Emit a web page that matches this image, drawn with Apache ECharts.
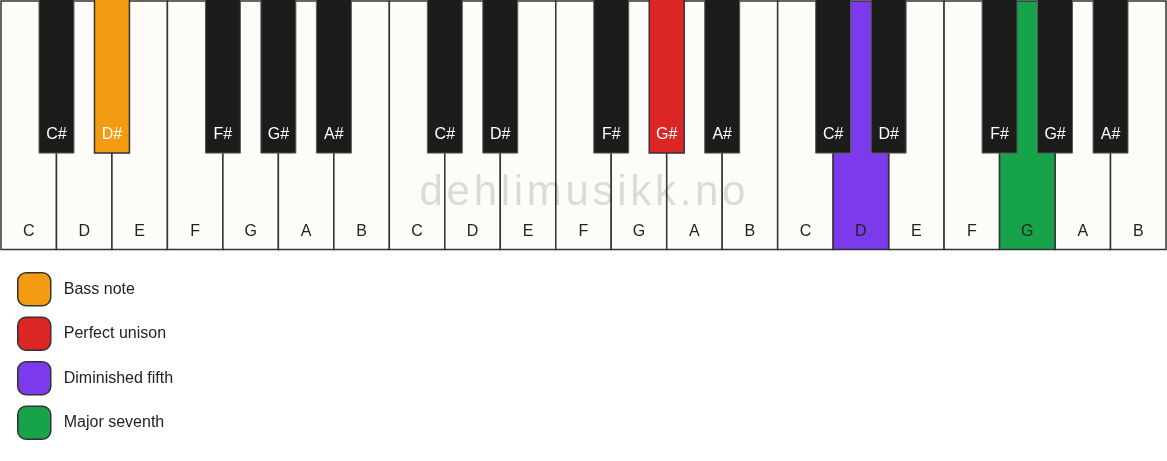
<!DOCTYPE html>
<html>
<head>
<meta charset="utf-8">
<script src="https://cdn.jsdelivr.net/npm/echarts@6/dist/echarts.min.js"></script>
<style>
html,body{margin:0;padding:0;background:#ffffff;}
#chart{width:1167px;height:461px;}
</style>
</head>
<body>
<div id="chart"></div>
<script>
// ---- data ----
const octaveCount = 3;
const whiteNotes = ['C', 'D', 'E', 'F', 'G', 'A', 'B'];
const blackNotes = ['C#', 'D#', 'F#', 'G#', 'A#'];
const blackAfterWhite = [0, 1, 3, 4, 5]; // black key sits after this white key index in the octave
const highlightNotes = ['D#', 'G#', 'D', 'G'];
const highlightOctaves = [0, 1, 2, 2];
const highlightNames = ['Bass note', 'Perfect unison', 'Diminished fifth', 'Major seventh'];
const highlightColors = ['#f39c12', '#dc2626', '#7c3aed', '#16a34a'];
const watermarkText = 'dehlimusikk.no';

// ---- derived ----
const FONT = "'Liberation Sans', Arial, Helvetica, sans-serif";
const WHITE_FILL = '#fdfcf9';
const BLACK_FILL = '#1c1c1b';
const BLACK_W = 0.63;      // in white-key units
const BLACK_BOTTOM = 0.388; // y (0 bottom, 1 top)

const whiteKeys = [];
for (let o = 0; o < octaveCount; o++) {
  whiteNotes.forEach((n, i) => whiteKeys.push({ pos: o * 7 + i, name: n, octave: o }));
}
const blackKeys = [];
for (let o = 0; o < octaveCount; o++) {
  blackNotes.forEach((n, i) => blackKeys.push({ pos: o * 7 + blackAfterWhite[i] + 1, name: n, octave: o }));
}
function isHighlighted(name, octave) {
  for (let k = 0; k < highlightNotes.length; k++) {
    if (highlightNotes[k] === name && highlightOctaves[k] === octave) return true;
  }
  return false;
}
function findKey(name, octave) {
  let w = whiteKeys.find(k => k.name === name && k.octave === octave);
  if (w) return { black: false, pos: w.pos, name: name };
  let b = blackKeys.find(k => k.name === name && k.octave === octave);
  return { black: true, pos: b.pos, name: name };
}

function whiteShape(api, pos, fill, label, textFill) {
  const p0 = api.coord([pos, 1]);
  const p1 = api.coord([pos + 1, 0]);
  return {
    type: 'group',
    children: [
      { type: 'rect', shape: { x: p0[0], y: p0[1], width: p1[0] - p0[0], height: p1[1] - p0[1] },
        style: { fill: fill, stroke: '#333333', lineWidth: 1.5 } },
      { type: 'text', style: { text: label, x: (p0[0] + p1[0]) / 2, y: p1[1] - 17.5,
        align: 'center', verticalAlign: 'middle', fill: textFill, font: '16px ' + FONT } }
    ]
  };
}
function blackShape(api, pos, fill, label, stroke, lw) {
  const p0 = api.coord([pos - BLACK_W / 2, 1.02]);
  const p1 = api.coord([pos + BLACK_W / 2, BLACK_BOTTOM]);
  return {
    type: 'group',
    children: [
      { type: 'rect', shape: { x: p0[0], y: p0[1], width: p1[0] - p0[0], height: p1[1] - p0[1] },
        style: { fill: fill, stroke: stroke, lineWidth: lw } },
      { type: 'text', style: { text: label, x: (p0[0] + p1[0]) / 2, y: p1[1] - 18,
        align: 'center', verticalAlign: 'middle', fill: '#ffffff', font: '16px ' + FONT } }
    ]
  };
}

const whiteData = whiteKeys.filter(k => !isHighlighted(k.name, k.octave));
const blackData = blackKeys.filter(k => !isHighlighted(k.name, k.octave));

const series = [
  {
    type: 'custom', name: 'white', z: 1, silent: true,
    data: whiteData.map(k => [k.pos]),
    renderItem: function (params, api) {
      const k = whiteData[params.dataIndex];
      return whiteShape(api, k.pos, WHITE_FILL, k.name, '#222222');
    }
  },
  {
    type: 'custom', name: 'black', z: 3, silent: true,
    data: blackData.map(k => [k.pos]),
    renderItem: function (params, api) {
      const k = blackData[params.dataIndex];
      return blackShape(api, k.pos, BLACK_FILL, k.name, '#5a5a5a', 1);
    }
  }
];
highlightNames.forEach((nm, idx) => {
  const key = findKey(highlightNotes[idx], highlightOctaves[idx]);
  series.push({
    type: 'custom', name: nm, z: key.black ? 4 : 2, silent: true,
    itemStyle: { color: highlightColors[idx] },
    data: [[key.pos]],
    renderItem: function (params, api) {
      if (key.black) return blackShape(api, key.pos, highlightColors[idx], key.name, '#333333', 1.5);
      return whiteShape(api, key.pos, highlightColors[idx], key.name, '#222222');
    }
  });
});

// watermark with letter spacing
const ctx = document.createElement('canvas').getContext('2d');
const wmFont = '42px ' + FONT;
ctx.font = wmFont;
const spacing = 3.7;
const chars = watermarkText.split('');
const widths = chars.map(c => ctx.measureText(c).width);
const totalW = widths.reduce((a, b) => a + b, 0) + spacing * (chars.length - 1);
let cx = 582.5 - totalW / 2;
const graphics = [];
chars.forEach((c, i) => {
  graphics.push({ type: 'text', z: 100, silent: true, x: cx, y: 193,
    style: { text: c, font: wmFont, fill: 'rgba(0,0,0,0.135)', align: 'left', verticalAlign: 'middle' } });
  cx += widths[i] + spacing;
});

const chart = echarts.init(document.getElementById('chart'), null, { renderer: 'canvas' });
chart.setOption({
  animation: false,
  backgroundColor: '#ffffff',
  grid: { left: 1, right: 1, top: 1, bottom: 211.5 },
  xAxis: { type: 'value', min: 0, max: 21, show: false },
  yAxis: { type: 'value', min: 0, max: 1, show: false },
  legend: {
    data: highlightNames,
    orient: 'vertical',
    left: 17, top: 272,
    padding: 0,
    icon: 'roundRect',
    itemWidth: 33, itemHeight: 33,
    itemGap: 10,
    selectedMode: false,
    itemStyle: { borderColor: '#333333', borderWidth: 1.5 },
    textStyle: { fontSize: 16, color: '#222222', fontFamily: FONT, padding: [5, 0, 0, 8] }
  },
  graphic: graphics,
  series: series
});
</script>
</body>
</html>
